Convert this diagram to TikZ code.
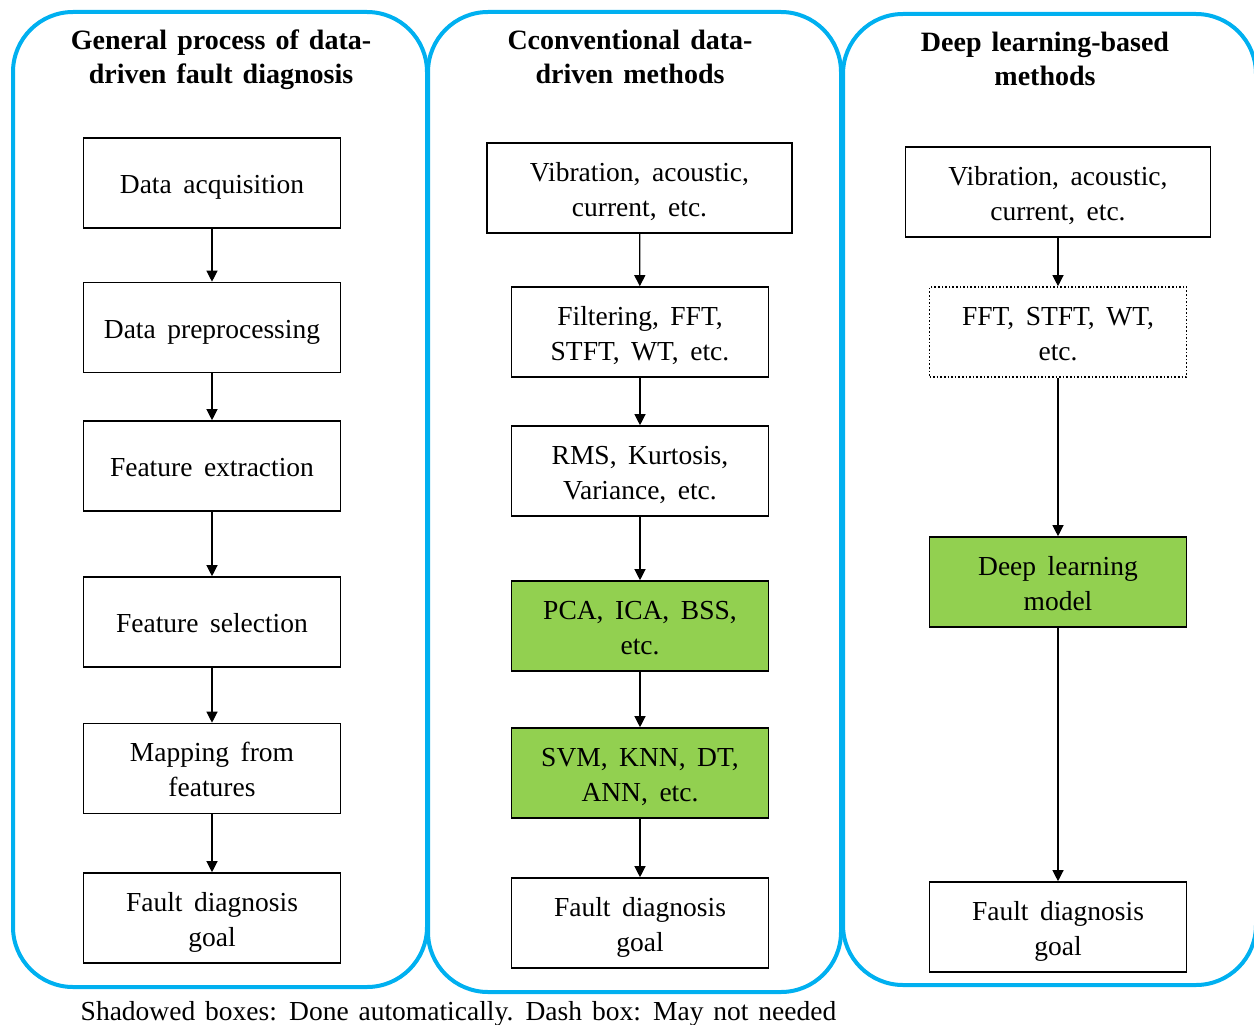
\documentclass[tikz,border=0pt]{standalone}
\usepackage{fontspec}
\setmainfont{Liberation Serif}
\usetikzlibrary{arrows.meta}
\definecolor{panelblue}{HTML}{00B0F0}
\definecolor{autogreen}{HTML}{92D050}
\newcommand{\boxfont}{\fontsize{27.5}{35}\selectfont\spaceskip=0.42em plus 0.1em\relax}
\newcommand{\notefont}{\fontsize{27.5}{34}\selectfont\spaceskip=0.36em plus 0.1em\relax}
\newcommand{\headfont}{\fontsize{28}{34}\selectfont\bfseries\spaceskip=0.36em plus 0.1em\relax}
% two centred lines; the rule fixes the height of the first one
\newcommand{\twoline}[2]{\begin{tabular}{@{}c@{}}\rule{0pt}{31.5pt}#1\\#2\end{tabular}}
\begin{document}
\begin{tikzpicture}[x=1pt,y=-1pt,
  panel/.style={draw=panelblue,line width=4pt,rounded corners=60pt},
  paneltitle/.style={font=\headfont,align=center,inner sep=0pt},
  stepbox/.style={draw=black,line width=1.6pt,minimum width=257pt,minimum height=90pt,
    inner sep=0pt,font=\boxfont},
  oneline/.style={execute at begin node={\rule{0pt}{29pt}},execute at end node={\rule[-8pt]{0pt}{0pt}}},
  widebox/.style={stepbox,minimum width=305pt},
  autobox/.style={stepbox,fill=autogreen},
  optbox/.style={stepbox,dotted},
  flow/.style={-{Triangle[length=11pt,width=11pt]},line width=1.2pt},
  note/.style={font=\notefont,inner sep=0pt}]
\useasboundingbox (0,0) rectangle (1254,1025);
\clip (0,0) rectangle (1254,1025);

% three rounded panels
\draw[panel] (13,12) rectangle (427,987);
\draw[panel] (428,12) rectangle (841,992);
\draw[panel] (843,14) rectangle (1256,985);

% panel headings
\node[paneltitle] (t1) at (221,60) {General process of data-\\driven fault diagnosis};
\node[paneltitle] (t2) at (630,57) {Cconventional data-\\driven methods};
\node[paneltitle] (t3) at (1045,59) {Deep learning-based\\methods};

% general process
\node[stepbox,oneline] (a1) at (212,183) {Data acquisition};
\node[stepbox,oneline] (a2) at (212,327.5) {Data preprocessing};
\node[stepbox,oneline] (a3) at (212,466) {Feature extraction};
\node[stepbox,oneline] (a4) at (212,622) {Feature selection};
\node[stepbox] (a5) at (212,768.5) {\twoline{Mapping from}{features}};
\node[stepbox] (a6) at (212,918) {\twoline{Fault diagnosis}{goal}};

% conventional methods
\node[widebox] (b1) at (639.5,188) {\twoline{Vibration, acoustic,}{current, etc.}};
\node[stepbox] (b2) at (640,332) {\twoline{Filtering, FFT,}{STFT, WT, etc.}};
\node[stepbox] (b3) at (640,471) {\twoline{RMS, Kurtosis,}{Variance, etc.}};
\node[autobox] (b4) at (640,626) {\twoline{PCA, ICA, BSS,}{etc.}};
\node[autobox] (b5) at (640,773) {\twoline{SVM, KNN, DT,}{ANN, etc.}};
\node[stepbox] (b6) at (640,923) {\twoline{Fault diagnosis}{goal}};

% deep learning methods
\node[widebox] (c1) at (1058,192) {\twoline{Vibration, acoustic,}{current, etc.}};
\node[optbox] (c2) at (1058,332) {\twoline{FFT, STFT, WT,}{etc.}};
\node[autobox] (c3) at (1058,582) {\twoline{Deep learning}{model}};
\node[stepbox] (c4) at (1058,927) {\twoline{Fault diagnosis}{goal}};

% connectors
\foreach \u/\v in {a1/a2,a2/a3,a3/a4,a4/a5,a5/a6,b1/b2,b2/b3,b3/b4,b4/b5,b5/b6,c1/c2,c2/c3,c3/c4}
  \draw[flow] (\u) -- (\v);

% legend
\node[note] (legend) at (458.5,1014) {Shadowed boxes: Done automatically. Dash box: May not needed};
\end{tikzpicture}
\end{document}
